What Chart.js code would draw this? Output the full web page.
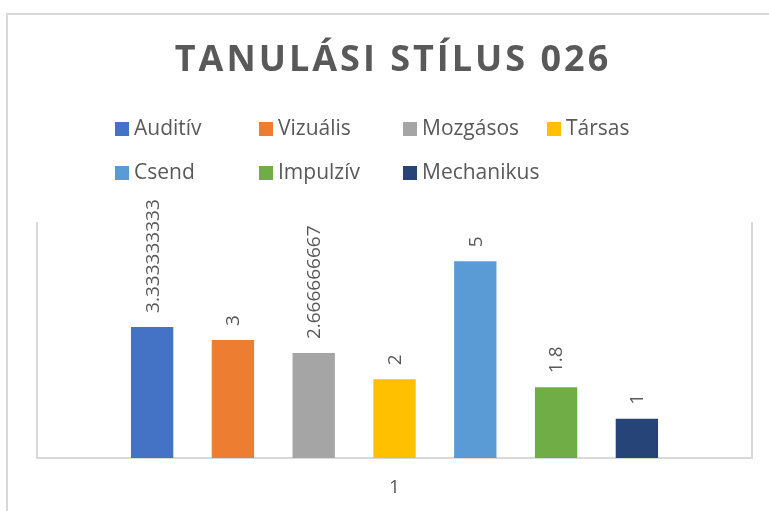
<!DOCTYPE html>
<html>
<head>
<meta charset="utf-8">
<script src="https://cdn.jsdelivr.net/npm/chart.js@4/dist/chart.umd.min.js"></script>
<style>
    html, body { margin: 0; padding: 0; background: #fff; overflow: hidden; }
    #wrap { position: relative; width: 769px; height: 511px; }
    #frame {
        position: absolute; left: 6px; top: 13px; width: 800px; height: 600px;
        border-top: 2px solid #d9d9d9; border-left: 2px solid #d9d9d9;
    }
    #chart { position: absolute; left: 0; top: 0; }
</style>
</head>
<body>
<div id="wrap">
    <div id="frame"></div>
    <canvas id="chart" width="769" height="511"></canvas>
</div>
<script>
const title = "TANULÁSI STÍLUS 026";
const categories = ["1"];
const seriesNames = ["Auditív", "Vizuális", "Mozgásos", "Társas", "Csend", "Impulzív", "Mechanikus"];
const seriesValues = [3.333333333, 3, 2.666666667, 2, 5, 1.8, 1];
const seriesColors = ["#4472c4", "#ed7d31", "#a5a5a5", "#ffc000", "#5b9bd5", "#70ad47", "#264478"];

const textGray = "#595959";
const lineGray = "#d9d9d9";

const datasets = seriesNames.map((name, i) => ({
    label: name,
    data: [seriesValues[i]],
    backgroundColor: seriesColors[i],
    categoryPercentage: 0.791,
    barPercentage: 0.524
}));

function labelText(v) {
    return String(Number(v.toPrecision(10)));
}

// title + legend in fixed columns, like the excel one
const decorations = {
    id: "decorations",
    afterDraw(chart) {
        const ctx = chart.ctx;
        ctx.save();
        ctx.fillStyle = textGray;
        ctx.font = 'bold 36px "Open Sans"';
        ctx.letterSpacing = "3px";
        ctx.textAlign = "center";
        ctx.textBaseline = "middle";
        ctx.fillText(title, 393, 61);
        ctx.letterSpacing = "0px";

        ctx.font = '21px "Open Sans"';
        ctx.textAlign = "left";
        seriesNames.forEach((name, i) => {
            const col = i % 4;
            const row = Math.floor(i / 4);
            const x = 115 + col * 144;
            const y = 129 + row * 44;
            ctx.fillStyle = seriesColors[i];
            ctx.fillRect(x, y - 7, 14, 14);
            ctx.fillStyle = textGray;
            ctx.fillText(name, x + 19, y);
        });
        ctx.restore();
    }
};

const barLabels = {
    id: "barLabels",
    afterDatasetsDraw(chart) {
        const ctx = chart.ctx;
        ctx.save();
        ctx.fillStyle = textGray;
        ctx.font = '19px "Open Sans"';
        ctx.textAlign = "left";
        ctx.textBaseline = "middle";
        chart.data.datasets.forEach((ds, i) => {
            const bar = chart.getDatasetMeta(i).data[0];
            ctx.save();
            ctx.translate(bar.x + 1, bar.y - 14);
            ctx.rotate(-Math.PI / 2);
            ctx.fillText(labelText(ds.data[0]), 0, 0);
            ctx.restore();
        });
        ctx.restore();
    }
};

new Chart(document.getElementById("chart"), {
    type: "bar",
    data: { labels: categories, datasets: datasets },
    options: {
        responsive: false,
        animation: false,
        layout: { padding: { left: 37, right: 17, top: 222, bottom: 0 } },
        plugins: {
            legend: { display: false },
            title: { display: false },
            tooltip: { enabled: false }
        },
        scales: {
            x: {
                grid: { color: lineGray, lineWidth: 2, drawTicks: false, offset: true },
                border: { color: lineGray, width: 2 },
                ticks: { color: textGray, font: { family: "Open Sans", size: 19 }, padding: 18 },
                afterFit(scale) { scale.height = 53; }
            },
            y: {
                display: false,
                min: 0,
                max: 6
            }
        }
    },
    plugins: [decorations, barLabels]
});
</script>
</body>
</html>
